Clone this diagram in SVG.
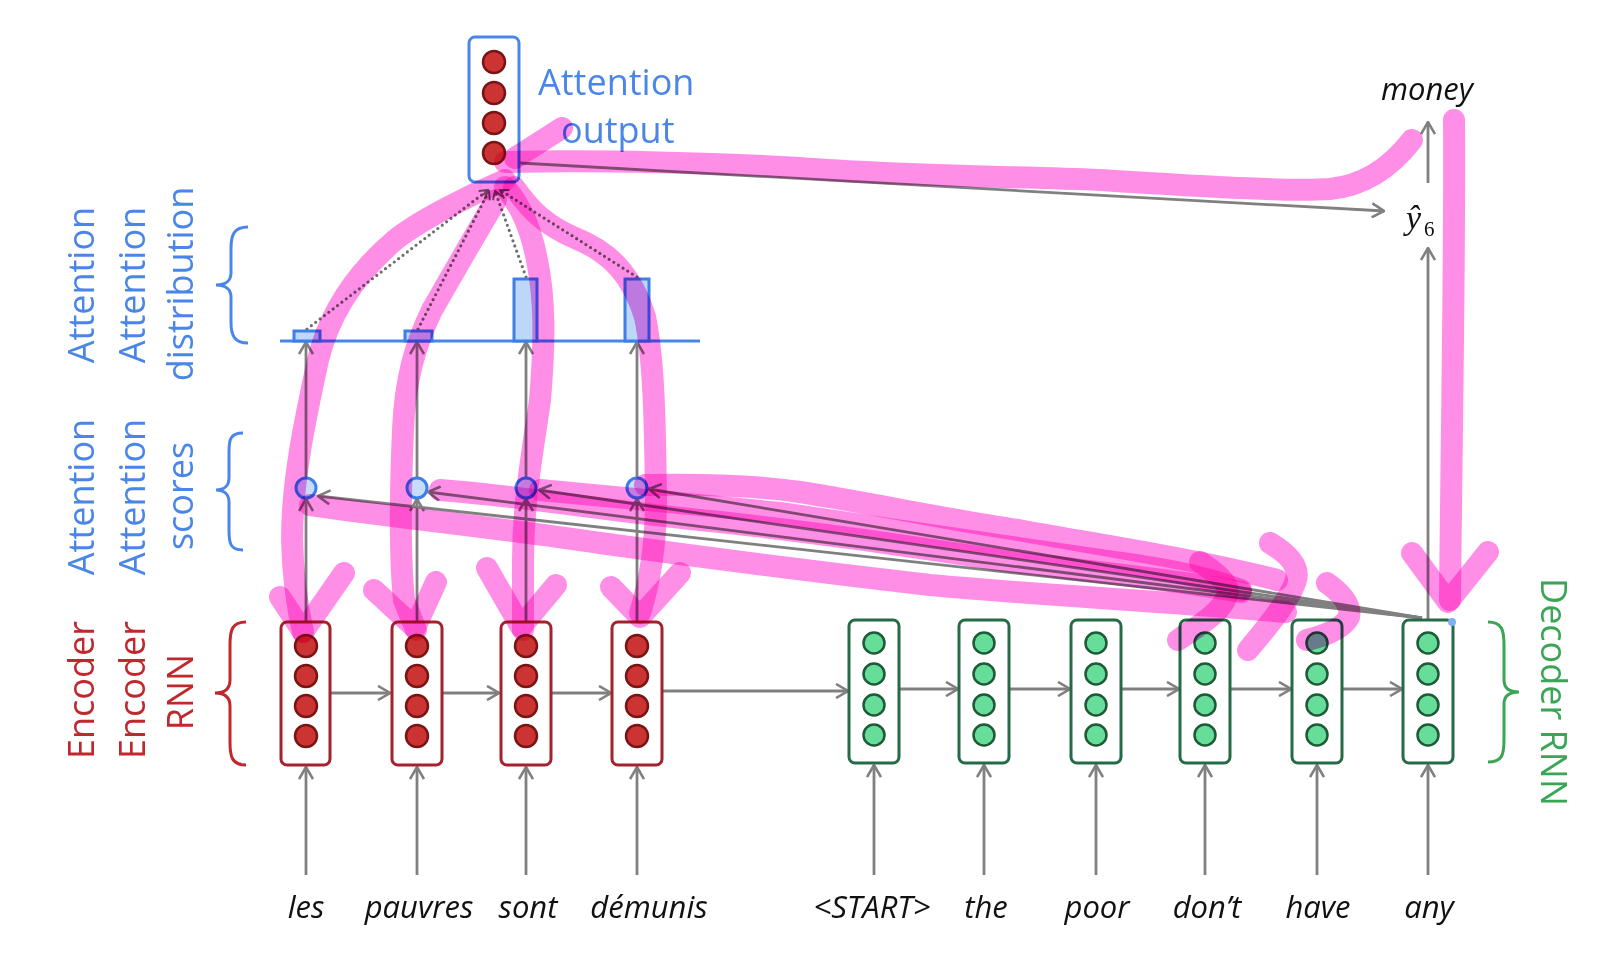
<svg xmlns="http://www.w3.org/2000/svg" width="1617" height="960" viewBox="0 0 1617 960">
<defs>
<style>
.lbl{font-family:"Open Sans","Liberation Sans",sans-serif;font-size:36px}
.blue{fill:#4a86e8}
.red{fill:#c0282d}
.green{fill:#3aa655}
.word{font-family:"Open Sans","Liberation Sans",sans-serif;font-style:italic;font-size:31px;fill:#111;text-anchor:middle}
.ebox{fill:#fff;stroke:#a3222e;stroke-width:3}
.ecirc{fill:#cc3333;stroke:#7a1414;stroke-width:2.5}
.dbox{fill:#fff;stroke:#256b45;stroke-width:3}
.dcirc{fill:#66dd99;stroke:#1f5a38;stroke-width:2.5}
.obox{fill:#fff;stroke:#4a86e8;stroke-width:3}
.score{fill:#c6dcfa;stroke:#3d7ee8;stroke-width:3}
.bar{fill:#bdd7f8;stroke:#3d7ee8;stroke-width:3}
.brace{fill:none;stroke-width:3}
.arr{fill:none;stroke:#808080;stroke-width:2.8;marker-end:url(#ah)}
.dot{fill:none;stroke:#6e6e6e;stroke-width:3.2;stroke-linecap:round;stroke-dasharray:0 5.5}
.hl{fill:none;stroke:#ff8fe6;stroke-width:22;stroke-linecap:round;stroke-linejoin:round;mix-blend-mode:multiply}
</style>
<marker id="ah" viewBox="0 0 14 16" refX="13" refY="8" markerWidth="14" markerHeight="16" markerUnits="userSpaceOnUse" orient="auto">
<path d="M1,1 L13,8 L1,15" fill="none" stroke="#808080" stroke-width="2.6"/>
</marker>
<marker id="ahs" viewBox="0 0 10 12" refX="9" refY="6" markerWidth="10" markerHeight="12" markerUnits="userSpaceOnUse" orient="auto">
<path d="M1,1 L9,6 L1,11" fill="none" stroke="#6e6e6e" stroke-width="2"/>
</marker>
</defs>
<rect width="1617" height="960" fill="#fff"/>

<g id="labels">
<text class="lbl blue" transform="translate(94,285) rotate(-90)" text-anchor="middle">Attention</text>
<text class="lbl blue" transform="translate(145,285) rotate(-90)" text-anchor="middle">Attention</text>
<text class="lbl blue" transform="translate(193,284) rotate(-90)" text-anchor="middle">distribution</text>
<text class="lbl blue" transform="translate(94,497) rotate(-90)" text-anchor="middle">Attention</text>
<text class="lbl blue" transform="translate(145,497) rotate(-90)" text-anchor="middle">Attention</text>
<text class="lbl blue" transform="translate(193,496) rotate(-90)" text-anchor="middle">scores</text>
<text class="lbl red" transform="translate(94,690) rotate(-90)" text-anchor="middle">Encoder</text>
<text class="lbl red" transform="translate(145,690) rotate(-90)" text-anchor="middle">Encoder</text>
<text class="lbl red" transform="translate(193,692) rotate(-90)" text-anchor="middle">RNN</text>
<text class="lbl green" transform="translate(1541,692) rotate(90)" text-anchor="middle">Decoder RNN</text>
<text class="lbl blue" x="538" y="95">Attention</text>
<text class="lbl blue" x="561" y="143">output</text>
</g>

<g id="braces">
<path class="brace" stroke="#4a86e8" d="M248,227 C234,227 231,235 231,248 L231,273 C231,281 225,285 216,285 C225,285 231,289 231,297 L231,322 C231,335 234,343 248,343"/>
<path class="brace" stroke="#4a86e8" d="M243,433 C230,433 229,440 229,452 L229,478 C229,486 224,490 216,490 C224,490 229,494 229,502 L229,530 C229,543 230,550 243,550"/>
<path class="brace" stroke="#c0282d" d="M246,622 C232,622 230,630 230,645 L230,680 C230,690 224,693 215,693 C224,693 230,696 230,706 L230,742 C230,757 232,765 246,765"/>
<path class="brace" stroke="#3aa655" d="M1488,622 C1502,622 1504,630 1504,645 L1504,680 C1504,689 1510,692 1519,692 C1510,692 1504,695 1504,704 L1504,740 C1504,755 1502,762 1488,762"/>
</g>

<g id="connectors">
<line class="arr" x1="306" y1="875" x2="306" y2="767"/>
<line class="arr" x1="417" y1="875" x2="417" y2="767"/>
<line class="arr" x1="526" y1="875" x2="526" y2="767"/>
<line class="arr" x1="637" y1="875" x2="637" y2="767"/>
<line class="arr" x1="874" y1="875" x2="874" y2="765"/>
<line class="arr" x1="984" y1="875" x2="984" y2="765"/>
<line class="arr" x1="1096" y1="875" x2="1096" y2="765"/>
<line class="arr" x1="1205" y1="875" x2="1205" y2="765"/>
<line class="arr" x1="1317" y1="875" x2="1317" y2="765"/>
<line class="arr" x1="1428" y1="875" x2="1428" y2="765"/>
<line class="arr" x1="331" y1="693" x2="390" y2="693"/>
<line class="arr" x1="443" y1="693" x2="499" y2="693"/>
<line class="arr" x1="551" y1="693" x2="611" y2="693"/>
<line class="arr" x1="662" y1="691" x2="848" y2="691"/>
<line class="arr" x1="900" y1="689" x2="958" y2="689"/>
<line class="arr" x1="1009" y1="689" x2="1070" y2="689"/>
<line class="arr" x1="1121" y1="689" x2="1179" y2="689"/>
<line class="arr" x1="1231" y1="689" x2="1291" y2="689"/>
<line class="arr" x1="1343" y1="689" x2="1402" y2="689"/>
<line class="arr" x1="306" y1="621" x2="306" y2="499"/>
<line class="arr" x1="417" y1="621" x2="417" y2="499"/>
<line class="arr" x1="526" y1="621" x2="526" y2="499"/>
<line class="arr" x1="637" y1="621" x2="637" y2="499"/>
<line class="arr" x1="306" y1="477" x2="306" y2="342"/>
<line class="arr" x1="417" y1="477" x2="417" y2="342"/>
<line class="arr" x1="526" y1="477" x2="526" y2="342"/>
<line class="arr" x1="637" y1="477" x2="637" y2="342"/>
<line class="arr" x1="1422" y1="618" x2="318" y2="496"/>
<line class="arr" x1="1422" y1="618" x2="428" y2="492"/>
<line class="arr" x1="1422" y1="618" x2="539" y2="490"/>
<line class="arr" x1="1422" y1="618" x2="649" y2="489"/>
<line class="dot" x1="307" y1="329" x2="488" y2="190" marker-end="url(#ahs)"/>
<line class="dot" x1="418" y1="329" x2="489" y2="191" marker-end="url(#ahs)"/>
<line class="dot" x1="526" y1="277" x2="495" y2="191" marker-end="url(#ahs)"/>
<line class="dot" x1="637" y1="277" x2="500" y2="190" marker-end="url(#ahs)"/>
<line class="arr" x1="520" y1="163" x2="1384" y2="211"/>
<line class="arr" x1="1428" y1="620" x2="1428" y2="248"/>
<line class="arr" x1="1428" y1="183" x2="1428" y2="122"/>
</g>

<g id="attention-distribution">
<line x1="280" y1="341" x2="700" y2="341" stroke="#4a86e8" stroke-width="3"/>
<rect class="bar" x="294" y="331" width="26" height="10"/>
<rect class="bar" x="405" y="331" width="27" height="10"/>
<rect class="bar" x="514" y="279" width="23" height="62"/>
<rect class="bar" x="625" y="279" width="24" height="62"/>
</g>

<g id="attention-scores">
<circle class="score" cx="306" cy="488" r="10"/>
<circle class="score" cx="417" cy="488" r="10"/>
<circle class="score" cx="526" cy="488" r="10"/>
<circle class="score" cx="637" cy="488" r="10"/>
</g>

<g id="attention-output">
<rect class="obox" x="469" y="37" width="50" height="145" rx="6"/>
<circle class="ecirc" cx="494" cy="62" r="11"/>
<circle class="ecirc" cx="494" cy="93" r="11"/>
<circle class="ecirc" cx="494" cy="123" r="11"/>
<circle class="ecirc" cx="494" cy="153" r="11"/>
</g>

<g id="enc-les">
<rect class="ebox" x="281" y="622" width="49" height="143" rx="6"/>
<circle class="ecirc" cx="306" cy="646" r="11"/><circle class="ecirc" cx="306" cy="676" r="11"/><circle class="ecirc" cx="306" cy="706" r="11"/><circle class="ecirc" cx="306" cy="736" r="11"/>
</g>
<g id="enc-pauvres">
<rect class="ebox" x="392" y="622" width="50" height="143" rx="6"/>
<circle class="ecirc" cx="417" cy="646" r="11"/><circle class="ecirc" cx="417" cy="676" r="11"/><circle class="ecirc" cx="417" cy="706" r="11"/><circle class="ecirc" cx="417" cy="736" r="11"/>
</g>
<g id="enc-sont">
<rect class="ebox" x="501" y="622" width="50" height="143" rx="6"/>
<circle class="ecirc" cx="526" cy="646" r="11"/><circle class="ecirc" cx="526" cy="676" r="11"/><circle class="ecirc" cx="526" cy="706" r="11"/><circle class="ecirc" cx="526" cy="736" r="11"/>
</g>
<g id="enc-demunis">
<rect class="ebox" x="612" y="622" width="50" height="143" rx="6"/>
<circle class="ecirc" cx="637" cy="646" r="11"/><circle class="ecirc" cx="637" cy="676" r="11"/><circle class="ecirc" cx="637" cy="706" r="11"/><circle class="ecirc" cx="637" cy="736" r="11"/>
</g>

<g id="dec-start">
<rect class="dbox" x="849" y="620" width="50" height="143" rx="6"/>
<circle class="dcirc" cx="874" cy="643" r="10.5"/><circle class="dcirc" cx="874" cy="674" r="10.5"/><circle class="dcirc" cx="874" cy="705" r="10.5"/><circle class="dcirc" cx="874" cy="735" r="10.5"/>
</g>
<g id="dec-the">
<rect class="dbox" x="959" y="620" width="50" height="143" rx="6"/>
<circle class="dcirc" cx="984" cy="643" r="10.5"/><circle class="dcirc" cx="984" cy="674" r="10.5"/><circle class="dcirc" cx="984" cy="705" r="10.5"/><circle class="dcirc" cx="984" cy="735" r="10.5"/>
</g>
<g id="dec-poor">
<rect class="dbox" x="1071" y="620" width="50" height="143" rx="6"/>
<circle class="dcirc" cx="1096" cy="643" r="10.5"/><circle class="dcirc" cx="1096" cy="674" r="10.5"/><circle class="dcirc" cx="1096" cy="705" r="10.5"/><circle class="dcirc" cx="1096" cy="735" r="10.5"/>
</g>
<g id="dec-dont">
<rect class="dbox" x="1180" y="620" width="50" height="143" rx="6"/>
<circle class="dcirc" cx="1205" cy="643" r="10.5"/><circle class="dcirc" cx="1205" cy="674" r="10.5"/><circle class="dcirc" cx="1205" cy="705" r="10.5"/><circle class="dcirc" cx="1205" cy="735" r="10.5"/>
</g>
<g id="dec-have">
<rect class="dbox" x="1292" y="620" width="50" height="143" rx="6"/>
<circle class="dcirc" cx="1317" cy="643" r="10.5"/><circle class="dcirc" cx="1317" cy="674" r="10.5"/><circle class="dcirc" cx="1317" cy="705" r="10.5"/><circle class="dcirc" cx="1317" cy="735" r="10.5"/>
</g>
<g id="dec-any">
<rect class="dbox" x="1403" y="620" width="50" height="143" rx="6"/>
<circle class="dcirc" cx="1428" cy="643" r="10.5"/><circle class="dcirc" cx="1428" cy="674" r="10.5"/><circle class="dcirc" cx="1428" cy="705" r="10.5"/><circle class="dcirc" cx="1428" cy="735" r="10.5"/>
<circle cx="1452" cy="622" r="4" fill="#7fb0f0"/>
</g>

<g id="yhat">
<text x="1406" y="229" font-family="'Liberation Serif',serif" font-style="italic" font-size="34" fill="#111">ŷ</text>
<text x="1424" y="236" font-family="'Liberation Serif',serif" font-size="21" fill="#111">6</text>
</g>
<g id="money"><text class="word" x="1427" y="100">money</text></g>

<g id="words">
<text class="word" x="306" y="918">les</text>
<text class="word" x="419" y="918">pauvres</text>
<text class="word" x="528" y="918">sont</text>
<text class="word" x="649" y="918">démunis</text>
<text class="word" x="872" y="918">&lt;START&gt;</text>
<text class="word" x="986" y="918">the</text>
<text class="word" x="1097" y="918">poor</text>
<text class="word" x="1207" y="918">don’t</text>
<text class="word" x="1318" y="918">have</text>
<text class="word" x="1429" y="918">any</text>
</g>

<g id="highlighter">
<path class="hl" d="M505,180 C470,195 420,220 395,240 C360,270 330,310 318,360 C305,420 292,480 292,540 C293,580 298,610 303,632"/>
<path class="hl" d="M280,597 L303,632 L344,573"/>
<path class="hl" d="M496,200 C475,235 455,270 432,310 C415,345 405,380 403,430 C400,500 400,560 404,600 L416,630"/>
<path class="hl" d="M374,590 L415,628 L436,582"/>
<path class="hl" d="M505,187 C520,205 530,225 537,260 C545,300 545,340 540,400 C533,450 523,500 523,560 L523,630"/>
<path class="hl" d="M487,568 L521,627 L556,585"/>
<path class="hl" d="M514,187 C530,210 545,225 575,238 C610,252 632,275 645,317 C654,360 655,420 656,500 C656,540 652,575 640,613"/>
<path class="hl" d="M611,587 L640,617 L680,573"/>
<path class="hl" d="M562,128 L515,158"/>
<path class="hl" d="M505,162 C600,160 720,163 800,168 C900,176 1000,176 1100,180 C1200,186 1290,192 1330,189 C1370,185 1395,162 1412,140"/>
<path class="hl" d="M1454,120 C1455,250 1452,400 1450,600"/>
<path class="hl" d="M1412,553 L1448,602 L1488,552"/>
<path class="hl" d="M645,485 C700,484 760,486 800,492 C880,505 950,520 1018,530 C1100,545 1200,560 1277,580"/>
<path class="hl" d="M540,490 C600,495 700,505 780,513 C880,528 1000,545 1100,560 C1160,568 1200,575 1241,590"/>
<path class="hl" d="M440,490 C530,497 600,510 700,520 C800,530 900,545 1000,560 C1100,573 1180,580 1241,592"/>
<path class="hl" d="M310,505 C400,518 500,528 600,543 C700,557 800,570 930,585 C1050,596 1150,600 1286,612"/>
<path class="hl" d="M1200,562 C1215,572 1228,582 1228,592 C1225,610 1200,625 1178,640"/>
<path class="hl" d="M1270,543 C1285,552 1300,565 1296,580 C1290,600 1265,630 1248,650"/>
<path class="hl" d="M1327,583 C1340,592 1352,605 1349,617 C1342,630 1320,637 1307,640"/>
</g>
</svg>
